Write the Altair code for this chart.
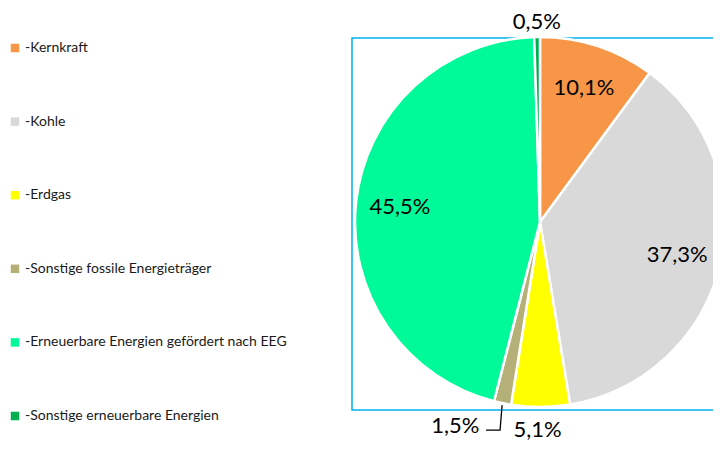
import altair as alt
import pandas as pd
import numpy as np

categories = ["Kernkraft", "Kohle", "Erdgas", "Sonstige fossile Energieträger",
              "Erneuerbare Energien gefördert nach EEG", "Sonstige erneuerbare Energien"]
values = [10.1, 37.3, 5.1, 1.5, 45.5, 0.5]
colors = ["#F79646", "#D9D9D9", "#FFFF00", "#B5B078", "#00FA9A", "#00B050"]
labels = [f"{v:.1f}".replace(".", ",") + "%" for v in values]

df = pd.DataFrame({"cat": categories, "value": values, "label": labels,
                   "idx": list(range(len(values)))})

W = H = 372
CX, CY, R = 188, 184, 185
FONT = "Lato"

base = alt.Chart(df).encode(
    theta=alt.Theta("value:Q", stack=True),
    order=alt.Order("idx:Q"),
)

pie = base.mark_arc(radius=R, stroke="white", strokeWidth=2.5).encode(
    color=alt.Color("cat:N", scale=alt.Scale(domain=categories, range=colors),
                    legend=alt.Legend(title=None, orient="none", legendX=-344, legendY=3,
                                      symbolType="square", symbolSize=72, symbolStrokeWidth=0,
                                      labelFont=FONT, labelFontSize=14, labelColor="#1a1a1a",
                                      labelOffset=3, rowPadding=59.6, labelLimit=400,
                                      labelExpr="'-' + datum.label")),
    x=alt.value(CX), y=alt.value(CY),
)

def lbl(test, r, dx=0, dy=0):
    return base.mark_text(radius=r, dx=dx, dy=dy, font=FONT, fontSize=22,
                          color="#000000").encode(
        text=alt.condition(test, "label:N", alt.value("")),
        x=alt.value(CX), y=alt.value(CY),
    )

inside = lbl("datum.value >= 10", 141)
top = lbl("datum.idx == 5", 200)
bottom = lbl("datum.idx == 2", 208, dx=-3)
small = lbl("datum.idx == 3", 206, dx=-43, dy=2)

# leader line for the 1,5% slice, derived from slice mid angle
cum_before = sum(values[:3])
a = 2 * np.pi * (cum_before + values[3] / 2) / 100.0
p0 = (CX + (R + 2) * np.sin(a), CY - (R + 2) * np.cos(a))
p1 = (p0[0] - 2, p0[1] + 25)
p2 = (p1[0] - 14, p1[1])
lead = pd.DataFrame({"x": [p0[0], p1[0], p2[0]], "y": [p0[1], p1[1], p2[1]], "o": [0, 1, 2]})
leader = alt.Chart(lead).mark_line(color="#000000", strokeWidth=1.3).encode(
    x=alt.X("x:Q", scale=None, axis=None),
    y=alt.Y("y:Q", scale=None, axis=None),
    order="o:Q",
)

chart = alt.layer(pie, leader, inside, top, bottom, small).properties(
    width=W, height=H,
    autosize=alt.AutoSizeParams(type="none"),
    padding={"left": 344, "top": 30, "right": -11, "bottom": 32},
).configure_view(stroke="#00B0F0", strokeWidth=1.5)

chart.save("out.html", embed_options={"renderer": "svg", "actions": False})
